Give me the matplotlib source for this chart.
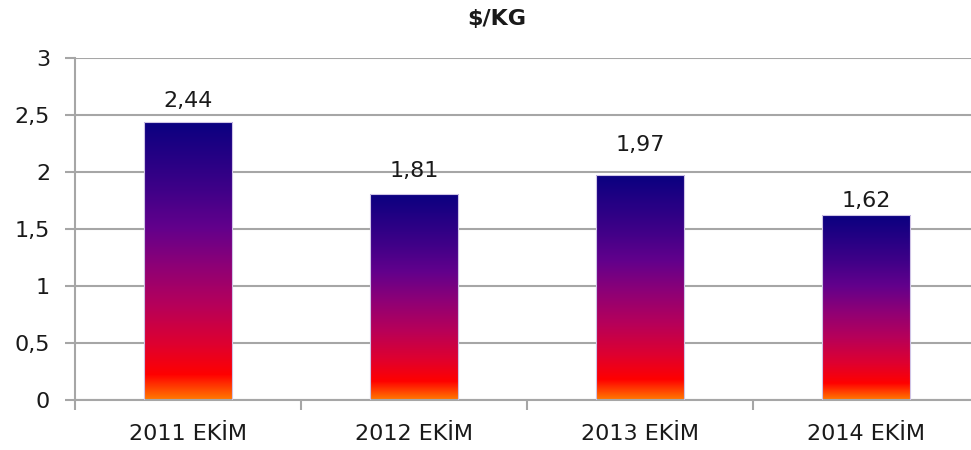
import numpy as np
import matplotlib.pyplot as plt
from matplotlib.colors import LinearSegmentedColormap

# ── data ────────────────────────────────────────────────────────────────────
categories = ['2011 EKİM', '2012 EKİM', '2013 EKİM', '2014 EKİM']
values     = [2.44, 1.81, 1.97, 1.62]
labels     = ['2,44', '1,81', '1,97', '1,62']
yticks     = [0, 0.5, 1, 1.5, 2, 2.5, 3]
ytick_lbls = ['0', '0,5', '1', '1,5', '2', '2,5', '3']

# label offsets above bar top, in points (as in the source)
label_off = [15, 16, 22, 10]

GRID = '#a6a6a6'
FS = 16

# gradient: top (0) → bottom (1)
grad = LinearSegmentedColormap.from_list('bar_grad', [
    (0.00, '#0a0080'),
    (0.25, '#400088'),
    (0.38, '#62008c'),
    (0.52, '#8e0076'),
    (0.66, '#b6005a'),
    (0.80, '#de0030'),
    (0.91, '#ff0000'),
    (1.00, '#ff7a00'),
])

fig = plt.figure(figsize=(9.71, 4.5), dpi=100)
ax = fig.add_axes([75 / 971, 1 - 400 / 450, 904 / 971, 342 / 450])

x = np.arange(len(categories))
bars = ax.bar(x, values, width=0.39, facecolor='none',
              edgecolor='#cfc4e6', linewidth=0.8, zorder=3)

# gradient fill per bar, clipped to the bar rectangle
g = np.linspace(0, 1, 256).reshape(-1, 1)
for b in bars:
    x0, y0 = b.get_x(), b.get_y()
    w, h = b.get_width(), b.get_height()
    im = ax.imshow(g, cmap=grad, aspect='auto',
                   extent=(x0, x0 + w, y0, y0 + h),
                   origin='upper', zorder=2, interpolation='bilinear')
    im.set_clip_path(b)

for xi, v, lbl, off in zip(x, values, labels, label_off):
    ax.annotate(lbl, (xi, v), xytext=(0, off), textcoords='offset points',
                ha='center', va='center', fontsize=FS, color='#1a1a1a')

ax.set_xlim(-0.5, len(categories) - 0.5)
ax.set_ylim(0, 3)
ax.set_yticks(yticks)
ax.set_yticklabels(ytick_lbls, fontsize=FS, color='#1a1a1a')
ax.set_xticks(x)
ax.set_xticklabels(categories, fontsize=FS, color='#1a1a1a')
ax.set_xticks(np.arange(-0.5, len(categories), 1.0), minor=True)
ax.tick_params(axis='x', which='major', length=0, pad=17)
ax.tick_params(axis='x', which='minor', length=7, width=1.5, color=GRID)
ax.tick_params(axis='y', length=7, width=1.5, color=GRID, pad=11)

ax.grid(axis='y', color=GRID, linewidth=1.5, zorder=0)
ax.set_axisbelow(True)
for s in ('top', 'right'):
    ax.spines[s].set_visible(False)
for s in ('left', 'bottom'):
    ax.spines[s].set_color(GRID)
    ax.spines[s].set_linewidth(1.5)

fig.text(497 / 971, 1 - 19 / 450, '$/KG', ha='center', va='center',
         fontsize=16, fontweight='bold', color='#1a1a1a')

fig.savefig('out.png', dpi=100)
